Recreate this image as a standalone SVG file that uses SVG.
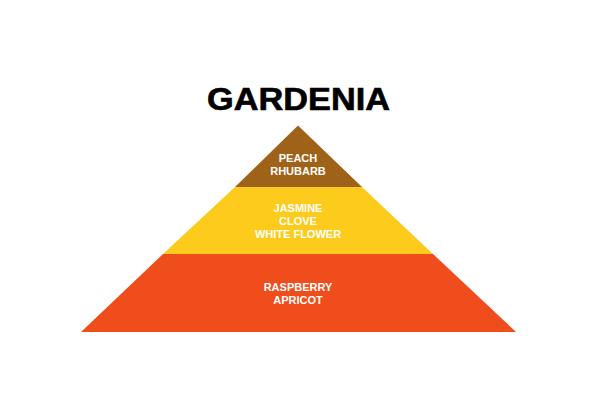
<svg xmlns="http://www.w3.org/2000/svg" width="600" height="420" viewBox="0 0 600 420">
<style>
.lbl{font-family:"Liberation Sans",Arial,sans-serif;font-size:11px;font-weight:bold;fill:#ffffff;text-anchor:middle}
.title{font-family:"Liberation Sans",Arial,sans-serif;font-size:31px;font-weight:bold;fill:#000;text-anchor:middle}
</style>
<rect width="600" height="420" fill="#ffffff"/>
<text class="title" x="298.5" y="109.5" textLength="183" lengthAdjust="spacingAndGlyphs" stroke="#000" stroke-width="0.6">GARDENIA</text>
<g id="top">
<polygon points="298,125.5 362,187 235,187" fill="#9f6219"/>
<text class="lbl" x="298" y="162">PEACH</text>
<text class="lbl" x="298" y="175">RHUBARB</text>
</g>
<g id="middle">
<polygon points="235,187 362,187 433,254 163,254" fill="#fdcb1c"/>
<text class="lbl" x="298" y="212">JASMINE</text>
<text class="lbl" x="298" y="225">CLOVE</text>
<text class="lbl" x="298" y="238">WHITE FLOWER</text>
</g>
<g id="base">
<polygon points="163,254 433,254 516,332 81,332" fill="#f04d1c"/>
<text class="lbl" x="298" y="291">RASPBERRY</text>
<text class="lbl" x="298" y="304">APRICOT</text>
</g>
<g id="connectors"/>
</svg>
